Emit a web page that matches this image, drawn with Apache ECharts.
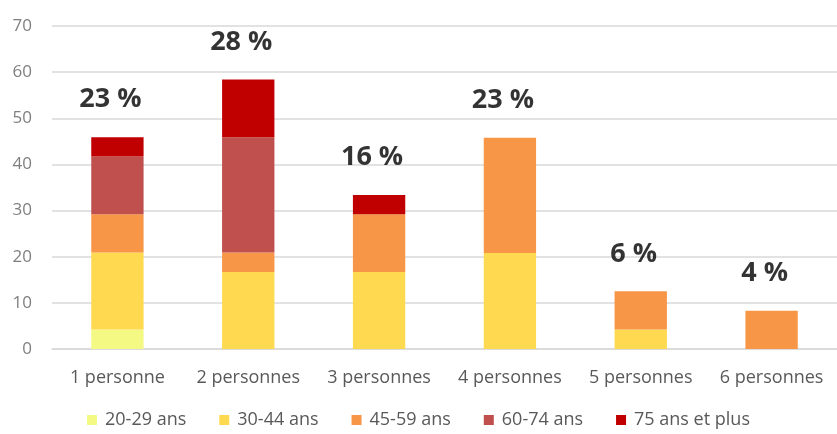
<!DOCTYPE html>
<html lang="fr">
<head>
    <meta charset="UTF-8">
    <title></title>
    <script src="https://cdn.jsdelivr.net/npm/echarts@6/dist/echarts.min.js"></script>
    <style>
        html, body{
            margin: 0;
            padding: 0;
            background: #fff;
        }
        #chart{
            width: 837px;
            height: 434px;
        }
    </style>
</head>
<body>
<div id="chart"></div>
<script>
    /*données*/
    var categories = ['1 personne','2 personnes','3 personnes','4 personnes','5 personnes','6 personnes'];
    var ages = ['20-29 ans','30-44 ans','45-59 ans','60-74 ans','75 ans et plus'];
    var age_20_29 = [4.2, 0, 0, 0, 0, 0];
    var age_30_44 = [16.7, 16.7, 16.7, 20.8, 4.2, 0];
    var age_45_59 = [8.3, 4.2, 12.5, 25, 8.3, 8.3];
    var age_60_74 = [12.5, 25, 0, 0, 0, 0];
    var age_75_plus = [4.2, 12.5, 4.2, 0, 0, 0];
    var pct_labels = ['23 %','28 %','16 %','23 %','6 %','4 %'];
    var y_ticks = [0, 10, 20, 30, 40, 50, 60, 70];

    var colors = ['#f3f982','#ffd94f','#f79646','#c0504d','#c00000'];
    var ageData = [age_20_29, age_30_44, age_45_59, age_60_74, age_75_plus];

    var totals = categories.map(function(c, i){
        var s = 0;
        ageData.forEach(function(arr){ s += arr[i]; });
        return s;
    });

    var series = ages.map(function(name, k){
        return {
            name: name,
            type: 'bar',
            stack: 'total',
            barWidth: '40%',
            itemStyle: {color: colors[k]},
            emphasis: {disabled: true},
            data: ageData[k]
        };
    });

    series.push({
        name: 'pct',
        type: 'scatter',
        symbolSize: 0,
        silent: true,
        data: totals,
        label: {
            show: true,
            position: 'top',
            distance: 24,
            offset: [-7, 0],
            color: '#000',
            fontFamily: 'Open Sans',
            fontWeight: 'bold',
            fontSize: 27,
            formatter: function(p){ return pct_labels[p.dataIndex]; }
        }
    });

    var option = {
        animation: false,
        textStyle: {fontFamily: 'Open Sans'},
        grid: {
            left: 52,
            right: 0,
            top: 26,
            bottom: 85
        },
        legend: {
            data: ages,
            bottom: 0,
            left: 'center',
            itemWidth: 10,
            itemHeight: 10,
            itemGap: 33,
            icon: 'rect',
            selectedMode: false,
            textStyle: {
                color: '#595959',
                fontSize: 18,
                fontFamily: 'Open Sans',
                padding: [0, 0, 0, 3]
            }
        },
        xAxis: {
            type: 'category',
            data: categories,
            axisTick: {show: false},
            axisLine: {lineStyle: {color: '#d9d9d9', width: 1.5}},
            axisLabel: {
                color: '#595959',
                fontSize: 18,
                margin: 20,
                interval: 0
            }
        },
        yAxis: {
            type: 'value',
            min: y_ticks[0],
            max: y_ticks[y_ticks.length - 1],
            interval: 10,
            axisLine: {show: false},
            axisTick: {show: false},
            splitLine: {lineStyle: {color: '#d9d9d9', width: 1.5}},
            axisLabel: {
                color: '#7f7f7f',
                fontSize: 17,
                margin: 20
            }
        },
        series: series
    };

    var chart = echarts.init(document.getElementById('chart'));
    chart.setOption(option);
</script>
</body>
</html>
